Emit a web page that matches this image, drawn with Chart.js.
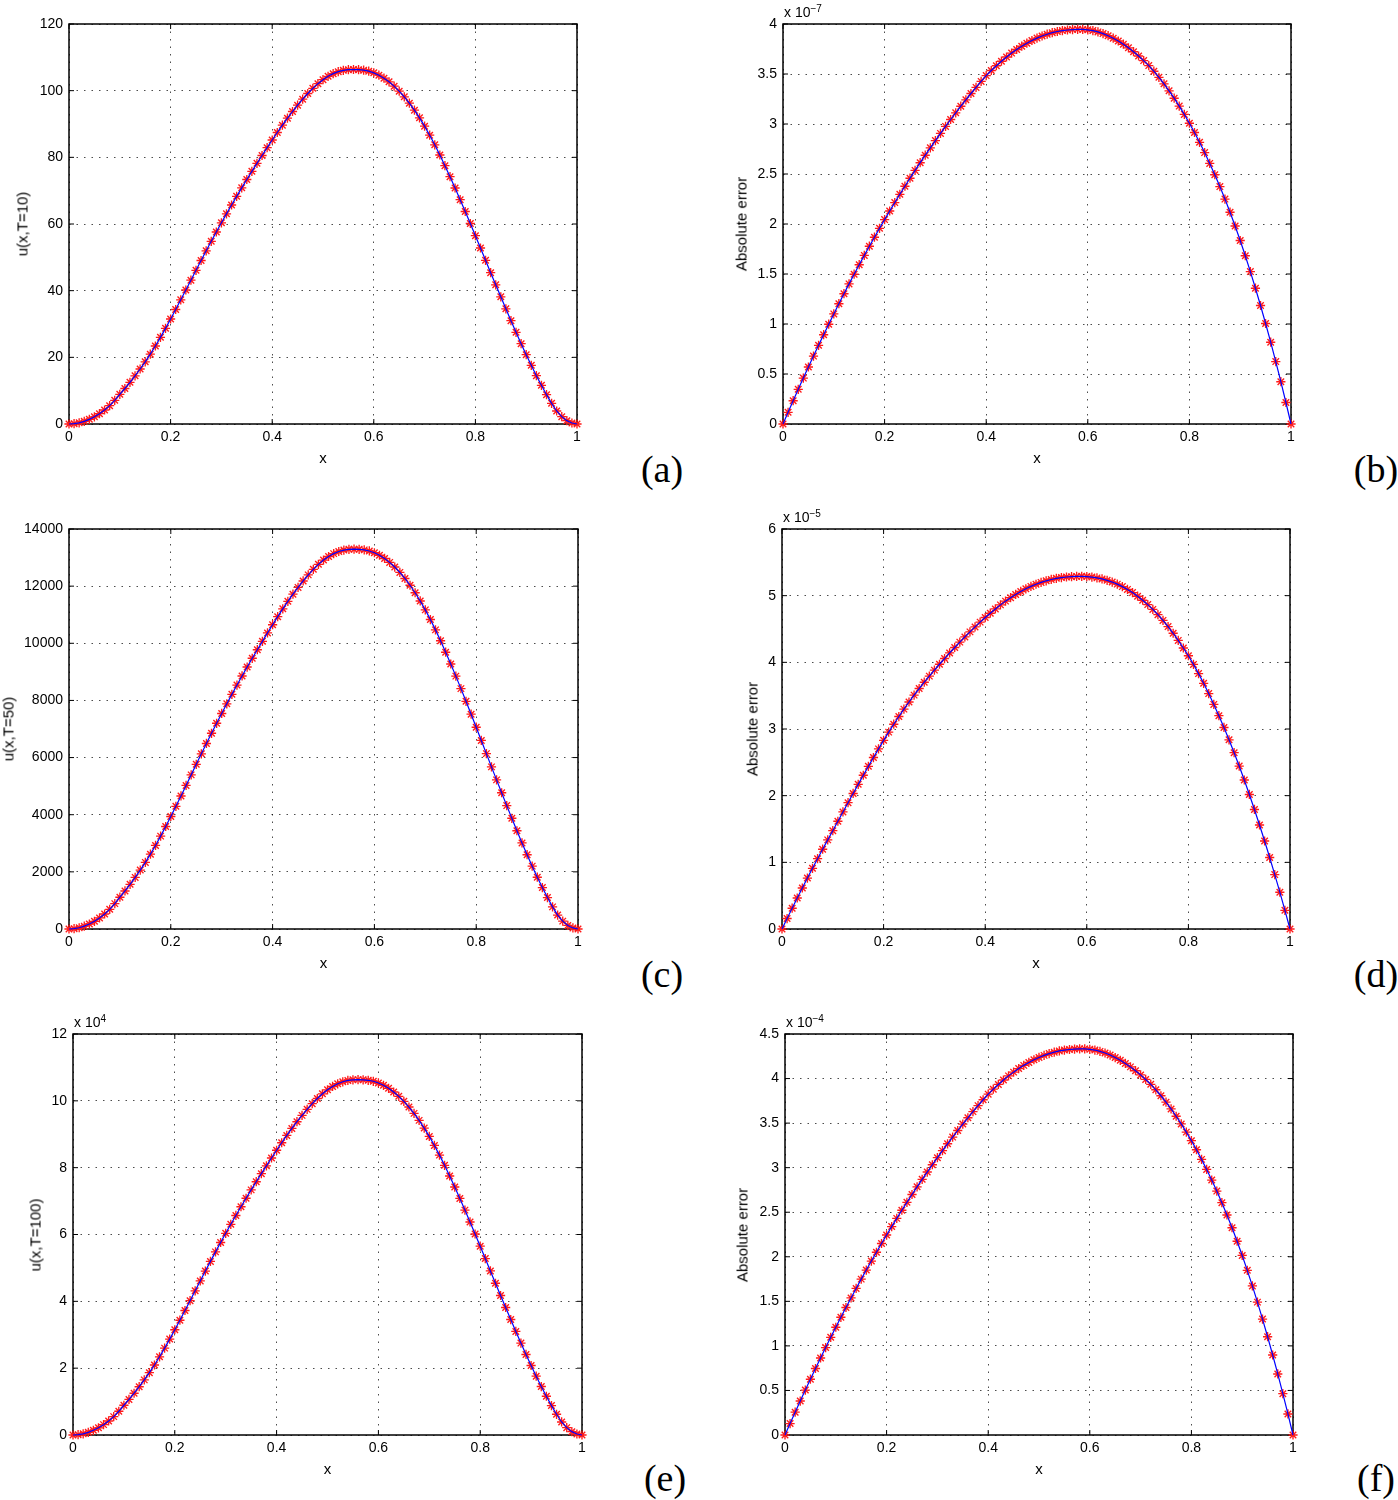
<!DOCTYPE html>
<html>
<head>
<meta charset="utf-8">
<title>u(x,T) and absolute error</title>
<script src="https://cdn.jsdelivr.net/npm/chart.js@4.4.1/dist/chart.umd.min.js"></script>
<style>
  body { margin: 0; background: #fff; }
  #page { position: relative; width: 1398px; height: 1500px; overflow: hidden;
          font-family: "Liberation Sans", Arial, sans-serif; color: #000; }
  #page canvas { position: absolute; }
  .lbl { position: absolute; white-space: nowrap; font-size: 15px; line-height: 15px; }
  .ylbl { transform: translate(-50%, -50%) rotate(-90deg); }
  .xlbl { transform: translate(-50%, -50%); }
  .tag { position: absolute; transform: translate(-50%, -50%);
         font-family: "Liberation Serif", "Times New Roman", serif; font-size: 38px; line-height: 38px; }
  .exp { position: absolute; font-size: 14px; line-height: 14px; white-space: nowrap; }
  .exp sup { font-size: 10px; position: relative; top: -3px; vertical-align: top; }
</style>
</head>
<body>
<div id="page"></div>
<script>
// ==========================
// DATA
// ==========================

const xGrid = [0,0.01,0.02,0.03,0.04,0.05,0.06,0.07,0.08,0.09,0.1,
  0.11,0.12,0.13,0.14,0.15,0.16,0.17,0.18,0.19,0.2,
  0.21,0.22,0.23,0.24,0.25,0.26,0.27,0.28,0.29,0.3,
  0.31,0.32,0.33,0.34,0.35,0.36,0.37,0.38,0.39,0.4,
  0.41,0.42,0.43,0.44,0.45,0.46,0.47,0.48,0.49,0.5,
  0.51,0.52,0.53,0.54,0.55,0.56,0.57,0.58,0.59,0.6,
  0.61,0.62,0.63,0.64,0.65,0.66,0.67,0.68,0.69,0.7,
  0.71,0.72,0.73,0.74,0.75,0.76,0.77,0.78,0.79,0.8,
  0.81,0.82,0.83,0.84,0.85,0.86,0.87,0.88,0.89,0.9,
  0.91,0.92,0.93,0.94,0.95,0.96,0.97,0.98,0.99,1];

// u(x,T=10)
const uT10 = [0,0.1,0.35,0.8,1.4,2.15,3.1,4.2,5.5,7.1,8.9,
  10.65,12.5,14.45,16.5,18.65,20.95,23.4,26.0,28.7,31.5,
  34.35,37.25,40.2,43.15,46.1,49.05,51.95,54.8,57.6,60.35,
  63.05,65.7,68.3,70.85,73.35,75.8,78.2,80.55,82.9,85.2,
  87.45,89.65,91.75,93.75,95.65,97.45,99.15,100.7,102.1,103.3,
  104.3,105.1,105.7,106.1,106.3,106.35,106.3,106.15,105.85,105.35,
  104.65,103.75,102.65,101.35,99.85,98.15,96.25,94.15,91.85,89.35,
  86.65,83.75,80.7,77.5,74.2,70.8,67.3,63.75,60.15,56.5,
  52.8,49.1,45.4,41.75,38.15,34.55,31.0,27.5,24.1,20.8,
  17.6,14.5,11.6,8.8,6.2,3.9,2.2,1.0,0.3,0];

// u(x,T=50)
const uT50 = [0,12,44,100,175,269,388,525,688,888,1113,
  1331,1563,1806,2063,2331,2619,2925,3250,3588,3938,
  4294,4656,5025,5394,5763,6131,6494,6850,7200,7544,
  7881,8213,8538,8856,9169,9475,9775,10069,10363,10650,
  10931,11206,11469,11719,11956,12181,12394,12588,12763,12913,
  13038,13138,13213,13263,13288,13294,13288,13269,13231,13169,
  13081,12969,12831,12669,12481,12269,12031,11769,11481,11169,
  10831,10469,10088,9688,9275,8850,8413,7969,7519,7063,
  6600,6138,5675,5219,4769,4319,3875,3438,3013,2600,
  2200,1813,1450,1100,775,488,275,125,38,0];

// u(x,T=100), in units of 10^4
const uT100 = [0,0.01,0.035,0.08,0.14,0.215,0.31,0.42,0.55,0.71,0.89,
  1.065,1.25,1.445,1.65,1.865,2.095,2.34,2.6,2.87,3.15,
  3.435,3.725,4.02,4.315,4.61,4.905,5.195,5.48,5.76,6.035,
  6.305,6.57,6.83,7.085,7.335,7.58,7.82,8.055,8.29,8.52,
  8.745,8.965,9.175,9.375,9.565,9.745,9.915,10.07,10.21,10.33,
  10.43,10.51,10.57,10.61,10.63,10.635,10.63,10.615,10.585,10.535,
  10.465,10.375,10.265,10.135,9.985,9.815,9.625,9.415,9.185,8.935,
  8.665,8.375,8.07,7.75,7.42,7.08,6.73,6.375,6.015,5.65,
  5.28,4.91,4.54,4.175,3.815,3.455,3.1,2.75,2.41,2.08,
  1.76,1.45,1.16,0.88,0.62,0.39,0.22,0.1,0.03,0];

// absolute error at T=10, in units of 10^-7
const errT10 = [0,0.117,0.233,0.347,0.459,0.570,0.679,0.787,0.893,0.998,1.101,
  1.203,1.303,1.401,1.498,1.593,1.686,1.778,1.868,1.957,2.044,
  2.130,2.214,2.297,2.378,2.458,2.536,2.613,2.688,2.762,2.834,
  2.906,2.976,3.045,3.112,3.178,3.242,3.305,3.366,3.426,3.484,
  3.535,3.583,3.628,3.670,3.709,3.745,3.778,3.808,3.835,3.859,
  3.880,3.898,3.913,3.925,3.934,3.940,3.944,3.947,3.946,3.942,
  3.934,3.921,3.904,3.883,3.858,3.830,3.798,3.762,3.723,3.680,
  3.634,3.584,3.528,3.467,3.402,3.332,3.258,3.179,3.096,3.008,
  2.915,2.817,2.714,2.606,2.493,2.374,2.249,2.118,1.980,1.835,
  1.683,1.524,1.358,1.185,1.005,0.818,0.624,0.423,0.215,0];

// absolute error at T=50, in units of 10^-5
const errT50 = [0,0.157,0.312,0.465,0.615,0.764,0.910,1.055,1.197,1.337,1.475,
  1.616,1.756,1.895,2.033,2.170,2.306,2.440,2.572,2.702,2.830,
  2.953,3.072,3.187,3.298,3.405,3.508,3.607,3.702,3.793,3.883,
  3.971,4.057,4.141,4.223,4.303,4.381,4.457,4.531,4.603,4.672,
  4.737,4.801,4.862,4.918,4.970,5.018,5.063,5.103,5.139,5.171,
  5.199,5.223,5.243,5.260,5.272,5.280,5.285,5.289,5.290,5.287,
  5.279,5.267,5.251,5.230,5.204,5.173,5.136,5.094,5.046,4.992,
  4.932,4.866,4.794,4.715,4.629,4.536,4.436,4.329,4.215,4.099,
  3.969,3.831,3.685,3.531,3.369,3.200,3.023,2.838,2.645,2.444,
  2.235,2.018,1.793,1.560,1.320,1.072,0.816,0.552,0.280,0];

// absolute error at T=100, in units of 10^-4
const errT100 = [0,0.128,0.256,0.381,0.504,0.626,0.746,0.864,0.981,1.096,1.209,
  1.321,1.431,1.538,1.645,1.749,1.851,1.952,2.051,2.149,2.244,
  2.339,2.431,2.522,2.611,2.699,2.785,2.869,2.951,3.033,3.112,
  3.191,3.268,3.343,3.417,3.489,3.560,3.629,3.696,3.762,3.825,
  3.881,3.934,3.984,4.030,4.072,4.112,4.148,4.181,4.211,4.237,
  4.260,4.280,4.296,4.310,4.320,4.326,4.331,4.334,4.333,4.328,
  4.320,4.305,4.287,4.264,4.236,4.205,4.170,4.131,4.088,4.041,
  3.990,3.935,3.874,3.807,3.735,3.659,3.577,3.491,3.399,3.303,
  3.201,3.093,2.980,2.861,2.737,2.607,2.469,2.326,2.174,2.015,
  1.848,1.673,1.491,1.301,1.103,0.898,0.685,0.464,0.236,0];

// tick values
const xTicks = [0, 0.2, 0.4, 0.6, 0.8, 1];
const yTicksT10 = [0, 20, 40, 60, 80, 100, 120];
const yTicksT50 = [0, 2000, 4000, 6000, 8000, 10000, 12000, 14000];
const yTicksT100 = [0, 2, 4, 6, 8, 10, 12];
const yTicksErr10 = [0, 0.5, 1, 1.5, 2, 2.5, 3, 3.5, 4];
const yTicksErr50 = [0, 1, 2, 3, 4, 5, 6];
const yTicksErr100 = [0, 0.5, 1, 1.5, 2, 2.5, 3, 3.5, 4, 4.5];

// ==========================
// PANEL LAYOUT
// ==========================

const panels = [
  { values: uT10,    yTicks: yTicksT10,    ylabel: "u(x,T=10)",      ylabelX: 22,  exp: null,
    left: 69,  top: 24,   right: 577,  bottom: 424,  tag: "(a)", tagX: 662,  tagY: 469 },
  { values: errT10,  yTicks: yTicksErr10,  ylabel: "Absolute error", ylabelX: 741, exp: "\u22127",
    left: 783, top: 24,   right: 1291, bottom: 424,  tag: "(b)", tagX: 1376, tagY: 469 },
  { values: uT50,    yTicks: yTicksT50,    ylabel: "u(x,T=50)",      ylabelX: 8,   exp: null,
    left: 69,  top: 529,  right: 578,  bottom: 929,  tag: "(c)", tagX: 662,  tagY: 974 },
  { values: errT50,  yTicks: yTicksErr50,  ylabel: "Absolute error", ylabelX: 752, exp: "\u22125",
    left: 782, top: 529,  right: 1290, bottom: 929,  tag: "(d)", tagX: 1376, tagY: 974 },
  { values: uT100,   yTicks: yTicksT100,   ylabel: "u(x,T=100)",     ylabelX: 35,  exp: "4",
    left: 73,  top: 1034, right: 582,  bottom: 1435, tag: "(e)", tagX: 665,  tagY: 1478 },
  { values: errT100, yTicks: yTicksErr100, ylabel: "Absolute error", ylabelX: 742, exp: "\u22124",
    left: 785, top: 1034, right: 1293, bottom: 1435, tag: "(f)", tagX: 1376, tagY: 1478 }
];

const page = document.getElementById("page");

function addText(cls, html, x, y){
  const el = document.createElement("div");
  el.className = cls;
  el.innerHTML = html;
  el.style.left = x + "px";
  el.style.top = y + "px";
  page.appendChild(el);
  return el;
}

function fmt(v){
  return String(+v.toFixed(3));
}

// ==========================
// BOX + INWARD TICKS (matlab style)
// ==========================

const boxPlugin = {
  id: "matlabBox",
  beforeDatasetsDraw(chart){
    const a = chart.chartArea;
    const ctx = chart.ctx;
    const xs = chart.scales.x;
    const ys = chart.scales.y;
    ctx.save();
    ctx.strokeStyle = "#000";
    ctx.lineWidth = 1;
    ctx.beginPath();
    xs.ticks.forEach(t => {
      const px = xs.getPixelForValue(t.value);
      ctx.moveTo(px, a.bottom); ctx.lineTo(px, a.bottom - 5);
      ctx.moveTo(px, a.top); ctx.lineTo(px, a.top + 5);
    });
    ys.ticks.forEach(t => {
      const py = ys.getPixelForValue(t.value);
      ctx.moveTo(a.left, py); ctx.lineTo(a.left + 5, py);
      ctx.moveTo(a.right, py); ctx.lineTo(a.right - 5, py);
    });
    ctx.stroke();
    ctx.lineWidth = 1.5;
    ctx.strokeRect(a.left, a.top, a.right - a.left, a.bottom - a.top);
    ctx.restore();
  }
};

// ==========================
// CHARTS
// ==========================

const PAD_L = 80, PAD_T = 20, PAD_R = 16, PAD_B = 30;

function makePanel(p){
  const w = p.right - p.left;
  const h = p.bottom - p.top;

  const canvas = document.createElement("canvas");
  canvas.width = w + PAD_L + PAD_R;
  canvas.height = h + PAD_T + PAD_B;
  canvas.style.left = (p.left - PAD_L) + "px";
  canvas.style.top = (p.top - PAD_T) + "px";
  page.appendChild(canvas);

  const points = xGrid.map((x, i) => ({ x: x, y: p.values[i] }));
  const yMax = p.yTicks[p.yTicks.length - 1];
  const yStep = p.yTicks[1] - p.yTicks[0];

  const tickFont = { family: "'Liberation Sans', Arial, sans-serif", size: 14 };
  const dots = [1.5, 6];

  new Chart(canvas, {
    type: "line",
    data: {
      datasets: [
        {
          data: points,
          showLine: false,
          pointStyle: "star",
          pointRadius: 4.6,
          pointBorderColor: "#ff1a1a",
          pointBorderWidth: 1.35,
          pointBackgroundColor: "#ff0000",
          order: 1,
          clip: false
        },
        {
          data: points,
          borderColor: "#0000ff",
          borderWidth: 1.2,
          pointRadius: 0,
          tension: 0,
          order: 0,
          clip: false
        }
      ]
    },
    options: {
      responsive: false,
      animation: false,
      events: [],
      layout: { padding: { left: 0, top: PAD_T, right: PAD_R, bottom: 0 } },
      plugins: { legend: { display: false }, tooltip: { enabled: false } },
      scales: {
        x: {
          type: "linear",
          min: 0,
          max: 1,
          afterFit: s => { s.height = PAD_B; },
          afterBuildTicks: s => { s.ticks = xTicks.map(v => ({ value: v })); },
          ticks: { color: "#000", font: tickFont, padding: 5, maxRotation: 0, callback: v => fmt(v) },
          grid: { color: "rgba(0,0,0,0.7)", lineWidth: 1, drawTicks: false },
          border: { display: false, dash: dots }
        },
        y: {
          type: "linear",
          min: 0,
          max: yMax,
          afterFit: s => { s.width = PAD_L; },
          afterBuildTicks: s => { s.ticks = p.yTicks.map(v => ({ value: v })); },
          ticks: { color: "#000", font: tickFont, padding: 6, stepSize: yStep, callback: v => fmt(v) },
          grid: { color: "rgba(0,0,0,0.7)", lineWidth: 1, drawTicks: false },
          border: { display: false, dash: dots }
        }
      }
    },
    plugins: [boxPlugin]
  });

  // axis labels, exponent, panel tag
  addText("lbl ylbl", p.ylabel, p.ylabelX, (p.top + p.bottom) / 2);
  addText("lbl xlbl", "x", (p.left + p.right) / 2, p.bottom + 33);
  if(p.exp){
    addText("exp", "x 10<sup>" + p.exp + "</sup>", p.left + 1, p.top - 19);
  }
  addText("tag", p.tag, p.tagX, p.tagY);
}

// ==========================
// INIT
// ==========================

panels.forEach(makePanel);
</script>
</body>
</html>
